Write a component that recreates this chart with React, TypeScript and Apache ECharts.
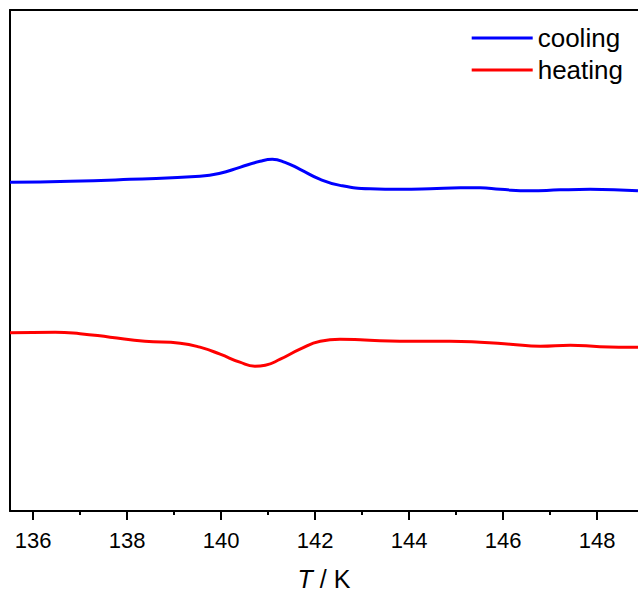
import React, { useEffect, useRef } from "react";
import * as echarts from "echarts";

const coolingT = [135.51, 136.79, 138.06, 139.55, 139.98, 140.4, 140.83, 141.09, 141.36, 141.68, 142.11, 142.53, 143.17, 143.81, 144.45, 145.09, 145.51, 145.94, 146.57, 147.21, 147.85, 148.87];
const coolingY = [65.6, 65.8, 66.2, 66.8, 67.4, 68.6, 69.8, 70.2, 69.6, 68.2, 66.2, 65.0, 64.3, 64.2, 64.3, 64.5, 64.5, 64.2, 63.9, 64.1, 64.2, 63.9];
const heatingT = [135.51, 136.47, 137.0, 137.64, 138.38, 139.13, 139.55, 139.98, 140.4, 140.72, 140.94, 141.26, 141.68, 142.11, 142.53, 142.96, 143.38, 144.23, 144.87, 145.51, 146.15, 146.79, 147.43, 148.06, 148.87];
const heatingY = [35.6, 35.7, 35.4, 34.7, 33.9, 33.5, 32.7, 31.3, 29.7, 28.9, 29.1, 30.3, 32.3, 33.9, 34.3, 34.2, 34.0, 33.9, 33.9, 33.7, 33.3, 32.9, 33.1, 32.8, 32.7];
const majorTicks = [136, 138, 140, 142, 144, 146, 148];
const minorTicks = [137, 139, 141, 143, 145, 147];
const X_MIN = 135.51;
const X_MAX = 148.87;

export default function App() {
  const ref = useRef<HTMLDivElement>(null);
  useEffect(() => {
    document.body.style.margin = "0";
    const chart = echarts.init(ref.current!, null, { renderer: "svg" });
    const font = "Liberation Sans, Arial, sans-serif";
    const baseX = {
      type: "value",
      min: X_MIN,
      max: X_MAX,
      splitLine: { show: false },
    };
    chart.setOption({
      animation: false,
      backgroundColor: "#fff",
      grid: { left: 10, top: 10, right: 0, bottom: 80, containLabel: false },
      legend: {
        orient: "vertical",
        right: 10,
        top: 20,
        itemWidth: 61,
        itemHeight: 3,
        itemGap: 6,
        icon: "rect",
        textStyle: { fontFamily: font, fontSize: 26, color: "#000" },
        data: ["cooling", "heating"],
      },
      xAxis: [
        {
          ...baseX,
          position: "bottom",
          axisLine: { show: true, lineStyle: { color: "#000", width: 2 } },
          axisTick: { show: true, length: 9, customValues: majorTicks, lineStyle: { color: "#000", width: 2 } },
          axisLabel: {
            show: true,
            customValues: majorTicks,
            margin: 18,
            fontFamily: font,
            fontSize: 22,
            color: "#000",
            formatter: (v: number) => String(v),
          },
          name: "{i|T} / K",
          nameLocation: "middle",
          nameGap: 55,
          nameTextStyle: {
            fontFamily: font,
            fontSize: 25,
            color: "#000",
            rich: { i: { fontFamily: font, fontSize: 25, fontStyle: "italic", color: "#000" } },
          },
        },
        {
          ...baseX,
          position: "bottom",
          axisLine: { show: false },
          axisTick: { show: true, length: 4, customValues: minorTicks, lineStyle: { color: "#000", width: 2 } },
          axisLabel: { show: false },
        },
        {
          ...baseX,
          position: "top",
          axisLine: { show: true, lineStyle: { color: "#000", width: 2 } },
          axisTick: { show: false },
          axisLabel: { show: false },
        },
      ],
      yAxis: {
        type: "value",
        min: 0,
        max: 100,
        axisLine: { show: true, lineStyle: { color: "#000", width: 2 } },
        axisTick: { show: false },
        axisLabel: { show: false },
        splitLine: { show: false },
      },
      series: [
        {
          name: "cooling",
          type: "line",
          xAxisIndex: 0,
          data: coolingT.map((t, i) => [t, coolingY[i]]),
          smooth: 0.5,
          symbol: "none",
          itemStyle: { color: "#0000ff" },
          lineStyle: { color: "#0000ff", width: 3 },
        },
        {
          name: "heating",
          type: "line",
          xAxisIndex: 0,
          data: heatingT.map((t, i) => [t, heatingY[i]]),
          smooth: 0.5,
          symbol: "none",
          itemStyle: { color: "#ff0000" },
          lineStyle: { color: "#ff0000", width: 3 },
        },
      ],
    });
    return () => chart.dispose();
  }, []);
  return <div ref={ref} style={{ width: 638, height: 596 }} />;
}
